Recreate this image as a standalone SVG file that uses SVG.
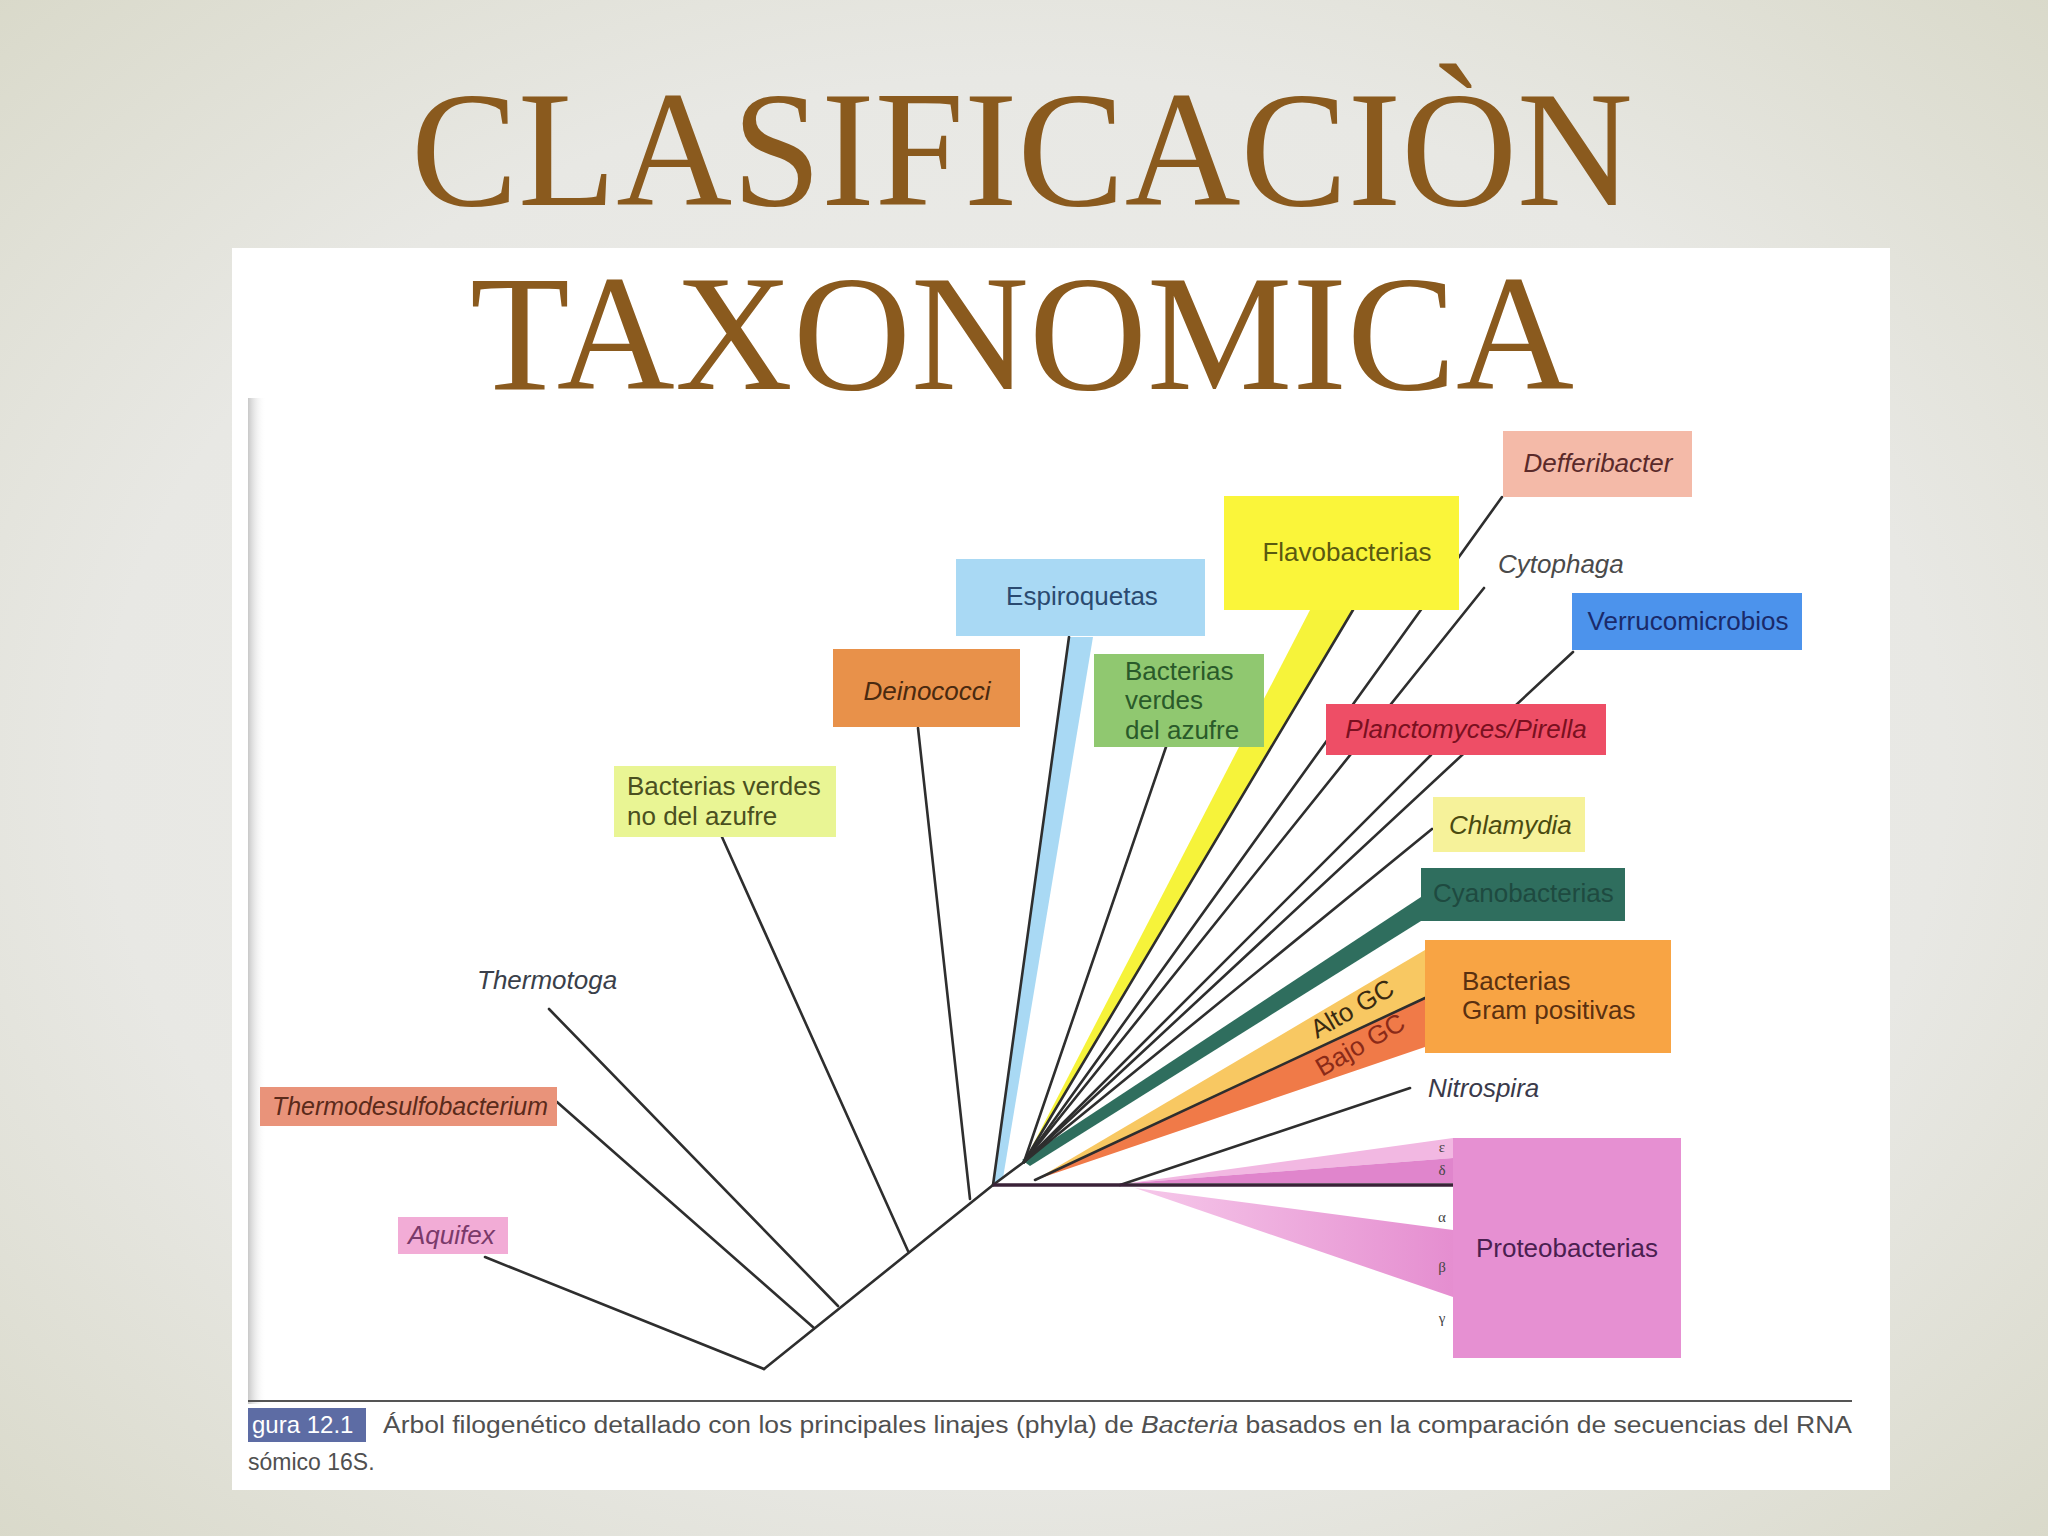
<svg xmlns="http://www.w3.org/2000/svg" width="2048" height="1536" viewBox="0 0 2048 1536">
<defs>
<radialGradient id="bg" cx="50%" cy="50%" r="75%">
<stop offset="0" stop-color="#ededeb"/>
<stop offset="0.6" stop-color="#e8e8e4"/>
<stop offset="1" stop-color="#d7d7c6"/>
</radialGradient>
<linearGradient id="scan" x1="0" y1="0" x2="1" y2="0">
<stop offset="0" stop-color="#c8c8c8"/>
<stop offset="1" stop-color="#ffffff" stop-opacity="0"/>
</linearGradient>
<linearGradient id="pinkfade" x1="0" y1="0" x2="1" y2="0">
<stop offset="0" stop-color="#f6c8ea"/>
<stop offset="1" stop-color="#e58ed0"/>
</linearGradient>
<style>
.ln{stroke:#2e2e2e;stroke-width:2.6;fill:none;stroke-linecap:round}
.lbl{font-family:"Liberation Sans",Arial,sans-serif;font-size:26px}
.it{font-style:italic}
.title{font-family:"Liberation Serif","Times New Roman",serif;font-size:166px;fill:#8a5a1e}
.cap{font-family:"Liberation Sans",Arial,sans-serif;font-size:23px;fill:#505050}
.gr{font-family:"Liberation Serif",serif;font-size:15px;fill:#444}
</style>
</defs>
<rect width="2048" height="1536" fill="url(#bg)"/>
<rect x="232" y="248" width="1658" height="1242" fill="#ffffff"/>
<rect x="248" y="398" width="18" height="1006" fill="url(#scan)"/>

<g id="title">
<text class="title" x="1022" y="205" text-anchor="middle" textLength="1222" lengthAdjust="spacingAndGlyphs">CLASIFICACIÒN</text>
<text class="title" x="1022" y="389" text-anchor="middle" textLength="1104" lengthAdjust="spacingAndGlyphs">TAXONOMICA</text>
</g>

<g id="connectors">
<polygon points="1069,637 1093,637 1003,1178 993,1185" fill="#a9d9f4"/>
<polygon points="1310,610 1353,610 1024,1162" fill="#f6f33a"/>
<polygon points="1421,897 1421,921 1030,1166 1022,1160" fill="#2f6e5e"/>
<polygon points="1425,950 1425,998 1035,1180" fill="#f8c862"/>
<polygon points="1425,998 1425,1047 1035,1180" fill="#f07a48"/>
<polygon points="1130,1183 1453,1138 1453,1158" fill="#f2b8e2"/>
<polygon points="1130,1183 1453,1158 1453,1183" fill="#e085cc"/>
<polygon points="1135,1188 1453,1230 1453,1297" fill="url(#pinkfade)"/>
<line class="ln" x1="485" y1="1257" x2="764" y2="1369"/>
<line class="ln" x1="764" y1="1369" x2="993" y2="1185"/>
<line class="ln" x1="557" y1="1102" x2="814" y2="1328"/>
<line class="ln" x1="549" y1="1009" x2="838" y2="1306"/>
<line class="ln" x1="722" y1="837" x2="908" y2="1251"/>
<line class="ln" x1="918" y1="728" x2="970" y2="1199"/>
<line class="ln" x1="1069" y1="637" x2="993" y2="1185"/>
<line class="ln" x1="993" y1="1185" x2="1024" y2="1162"/>
<line class="ln" x1="1166" y1="747" x2="1024" y2="1162"/>
<line class="ln" x1="1353" y1="610" x2="1024" y2="1162"/>
<line class="ln" x1="1502" y1="497" x2="1024" y2="1162"/>
<line class="ln" x1="1484" y1="588" x2="1024" y2="1162"/>
<line class="ln" x1="1573" y1="652" x2="1024" y2="1162"/>
<line class="ln" x1="1431" y1="755" x2="1024" y2="1162"/>
<line class="ln" x1="1432" y1="829" x2="1024" y2="1162"/>
<line class="ln" x1="1425" y1="998" x2="1035" y2="1180"/>
<line class="ln" x1="1410" y1="1088" x2="1120" y2="1185"/>
<line x1="993" y1="1185" x2="1453" y2="1185" stroke="#3a2238" stroke-width="3.4"/>
</g>

<g id="n-aquifex">
<rect x="398" y="1217" width="110" height="37" fill="#f2acd6"/>
<text class="lbl it" x="408" y="1244" font-size="25" fill="#7a3a6a">Aquifex</text>
</g>
<g id="n-thermodesulfobacterium">
<rect x="260" y="1087" width="297" height="39" fill="#e9937a"/>
<text class="lbl it" x="272" y="1115" textLength="276" lengthAdjust="spacingAndGlyphs" fill="#5a2a1a">Thermodesulfobacterium</text>
</g>
<g id="n-thermotoga">
<text class="lbl it" x="477" y="989" fill="#3a3f4a">Thermotoga</text>
</g>
<g id="n-bacterias-verdes-no-azufre">
<rect x="614" y="766" width="222" height="71" fill="#e9f594"/>
<text class="lbl" x="627" y="795" fill="#4a5020">Bacterias verdes</text>
<text class="lbl" x="627" y="825" fill="#4a5020">no del azufre</text>
</g>
<g id="n-deinococci">
<rect x="833" y="649" width="187" height="78" fill="#e8914a"/>
<text class="lbl it" x="927" y="700" font-size="25" text-anchor="middle" fill="#4a2a10">Deinococci</text>
</g>
<g id="n-espiroquetas">
<rect x="956" y="559" width="249" height="77" fill="#a9d9f4"/>
<text class="lbl" x="1082" y="605" text-anchor="middle" fill="#2a4a70">Espiroquetas</text>
</g>
<g id="n-bacterias-verdes-azufre">
<rect x="1094" y="654" width="170" height="93" fill="#90c870"/>
<text class="lbl" x="1125" y="680" fill="#2a5a2a">Bacterias</text>
<text class="lbl" x="1125" y="709" fill="#2a5a2a">verdes</text>
<text class="lbl" x="1125" y="739" fill="#2a5a2a">del azufre</text>
</g>
<g id="n-flavobacterias">
<rect x="1224" y="496" width="235" height="114" fill="#faf53a"/>
<text class="lbl" x="1347" y="561" text-anchor="middle" fill="#5a5a10">Flavobacterias</text>
</g>
<g id="n-defferibacter">
<rect x="1503" y="431" width="189" height="66" fill="#f4baa8"/>
<text class="lbl it" x="1598" y="472" text-anchor="middle" fill="#5a2a2a">Defferibacter</text>
</g>
<g id="n-cytophaga">
<text class="lbl it" x="1498" y="573" fill="#4a4a4a">Cytophaga</text>
</g>
<g id="n-verrucomicrobios">
<rect x="1572" y="593" width="230" height="57" fill="#4c93ec"/>
<text class="lbl" x="1688" y="630" text-anchor="middle" fill="#1a2a6a">Verrucomicrobios</text>
</g>
<g id="n-planctomyces">
<rect x="1326" y="704" width="280" height="51" fill="#ee4e66"/>
<text class="lbl it" x="1466" y="738" text-anchor="middle" fill="#7a1020">Planctomyces/Pirella</text>
</g>
<g id="n-chlamydia">
<rect x="1433" y="797" width="152" height="55" fill="#f6f29a"/>
<text class="lbl it" x="1449" y="834" font-size="25" fill="#4a4a10">Chlamydia</text>
</g>
<g id="n-cyanobacterias">
<rect x="1421" y="868" width="204" height="53" fill="#2f6e5e"/>
<text class="lbl" x="1433" y="902" fill="#1e4a40">Cyanobacterias</text>
</g>
<g id="n-gram-positivas">
<rect x="1425" y="940" width="246" height="113" fill="#f8a444"/>
<text class="lbl" x="1462" y="990" fill="#5a3010">Bacterias</text>
<text class="lbl" x="1462" y="1019" fill="#5a3010">Gram positivas</text>
<text class="lbl" x="1354" y="1017" font-size="16" text-anchor="middle" fill="#3a2a10" transform="rotate(-30 1354 1012)">Alto GC</text>
<text class="lbl" x="1362" y="1053" font-size="16" text-anchor="middle" fill="#8a2a18" transform="rotate(-30 1362 1048)">Bajo GC</text>
</g>
<g id="n-nitrospira">
<text class="lbl it" x="1428" y="1097" fill="#3a3a4a">Nitrospira</text>
</g>
<g id="n-proteobacterias">
<rect x="1453" y="1138" width="228" height="220" fill="#e690d2"/>
<text class="lbl" x="1567" y="1257" text-anchor="middle" fill="#4a2050">Proteobacterias</text>
<text class="gr" x="1442" y="1152" text-anchor="middle">ε</text>
<text class="gr" x="1442" y="1175" text-anchor="middle">δ</text>
<text class="gr" x="1442" y="1222" text-anchor="middle">α</text>
<text class="gr" x="1442" y="1272" text-anchor="middle">β</text>
<text class="gr" x="1442" y="1323" text-anchor="middle">γ</text>
</g>

<g id="caption">
<line x1="248" y1="1401" x2="1852" y2="1401" stroke="#555" stroke-width="2"/>
<rect x="248" y="1408" width="118" height="34" fill="#5d6ca4"/>
<text class="cap" x="252" y="1433" style="fill:#ffffff;font-size:24px">gura 12.1</text>
<text class="cap" x="383" y="1433" textLength="1469" lengthAdjust="spacingAndGlyphs">Árbol filogenético detallado con los principales linajes (phyla) de <tspan font-style="italic">Bacteria</tspan> basados en la comparación de secuencias del RNA</text>
<text class="cap" x="248" y="1470">sómico 16S.</text>
</g>
</svg>
